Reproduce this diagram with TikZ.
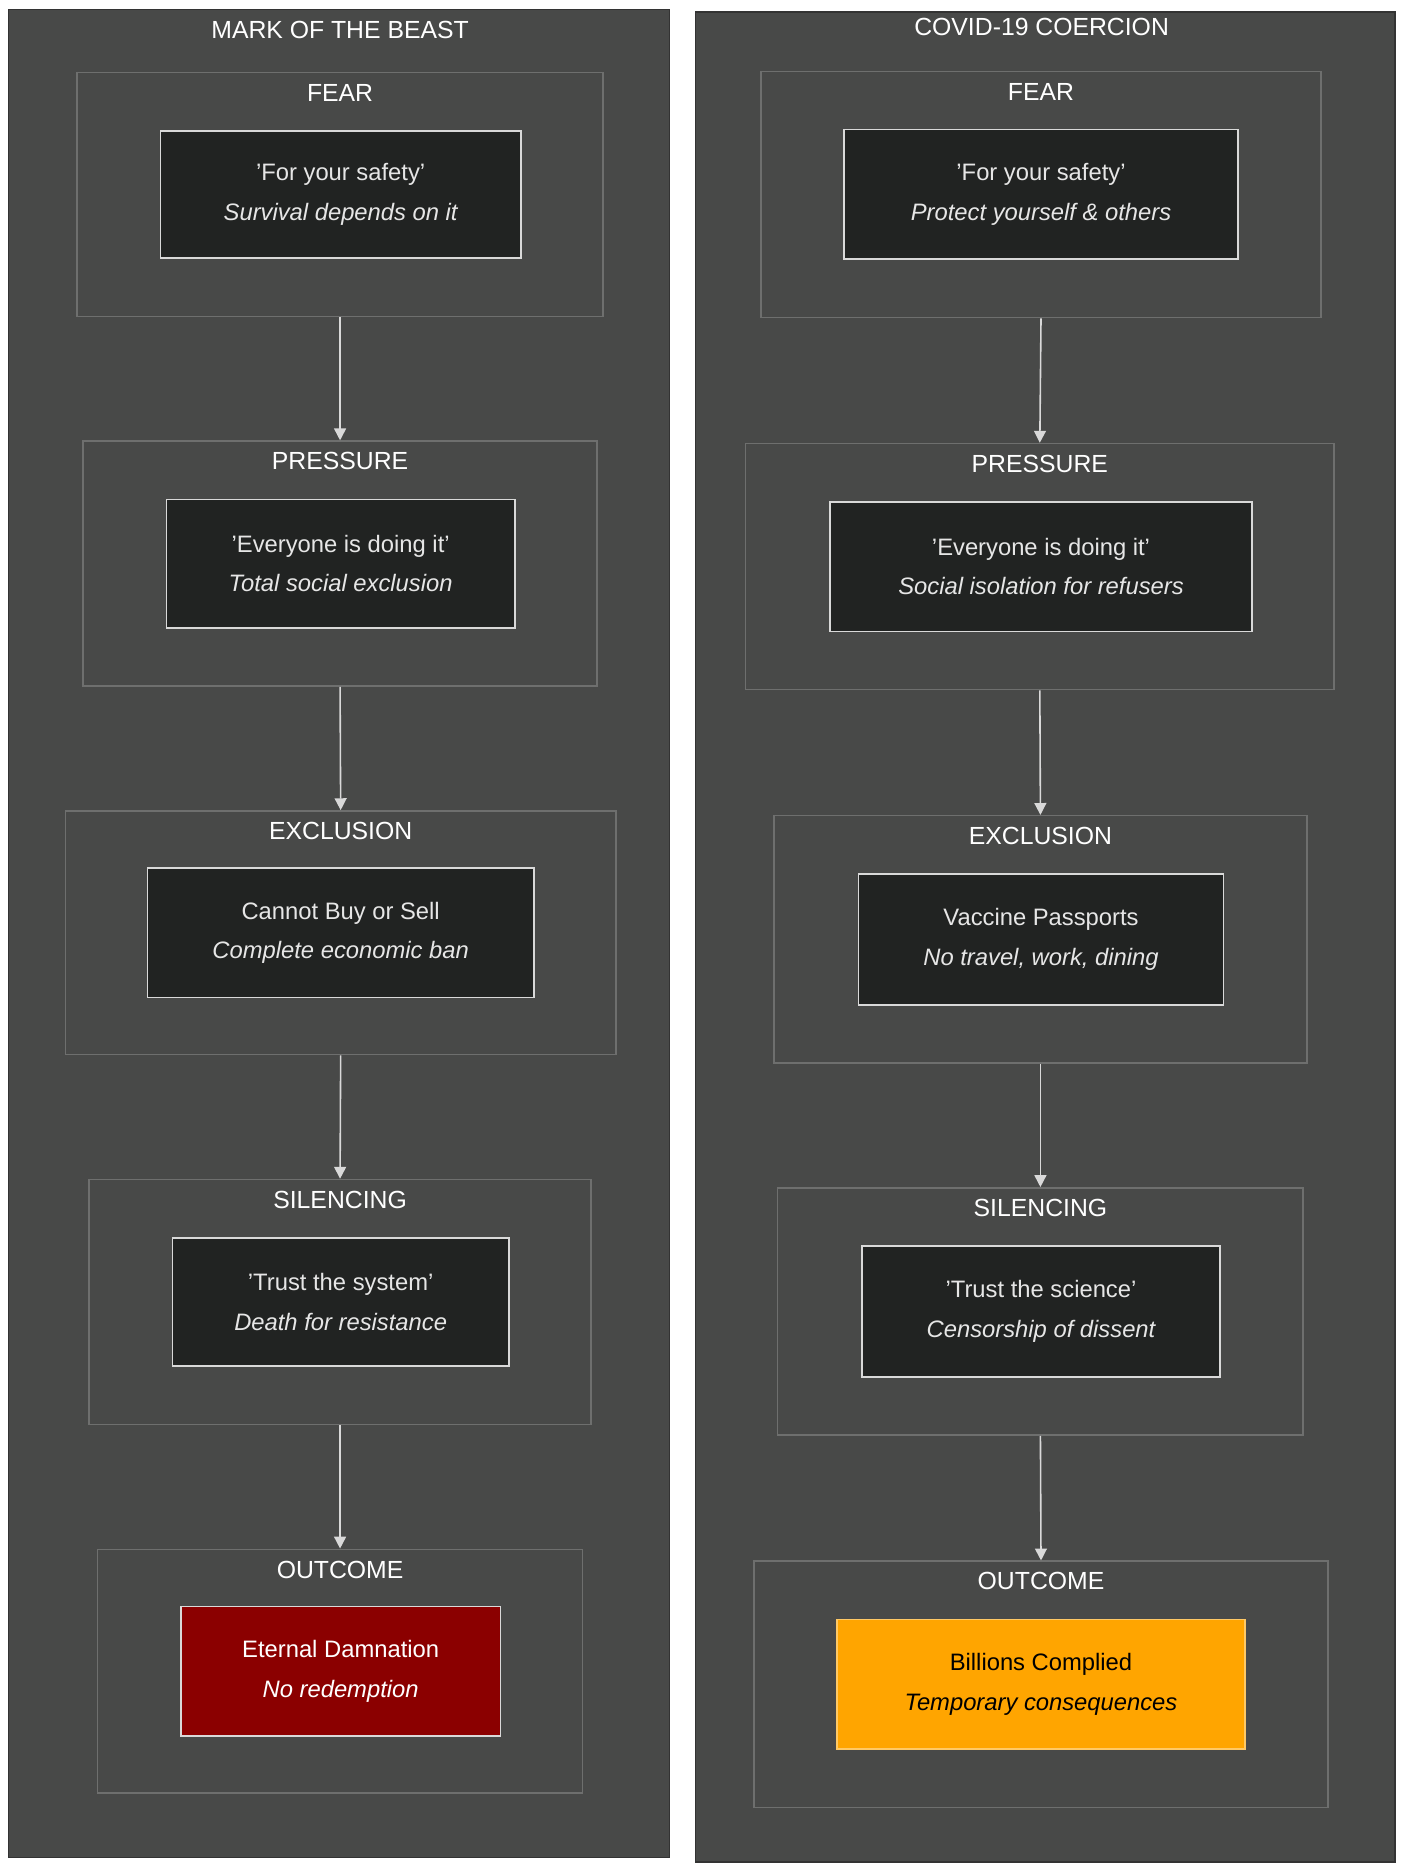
\documentclass[tikz,border=0pt]{standalone}
\usepackage{fontspec}
\setmainfont{Liberation Sans}
\usetikzlibrary{fit,arrows.meta}
\definecolor{panel}{HTML}{484948}
\definecolor{nodebg}{HTML}{212322}
\definecolor{grpline}{HTML}{6E6F6E}
\definecolor{txt}{HTML}{E6E6E6}
\definecolor{dred}{HTML}{8B0000}
\definecolor{orng}{HTML}{FFA500}
\begin{document}
\begin{tikzpicture}[x=0.6pt,y=-0.6pt,
  pan/.style={draw=black!80,fill=panel,inner sep=0,line width=0.8pt},
  grp/.style={draw=grpline,inner sep=0,line width=0.8pt},
  box/.style={draw=white!85!black,fill=nodebg,inner sep=0,line width=0.8pt},
  lbl/.style={text=white,font=\fontsize{12.5}{14}\selectfont},
  btxt/.style={text=txt,font=\fontsize{12}{20}\selectfont,align=center},
  arr/.style={draw=white!85!black,line width=0.8pt,-{Triangle[length=6pt,width=6pt]}}]
\useasboundingbox (0,0) rectangle (1180,1571);
\fill[white] (0,0) rectangle (1180,1571);
\node[pan,fit={(7,8)(563,1562)}] (P1) {};
\node[pan,fit={(585,10)(1173,1566)}] (P2) {};
\node[lbl] (T1) at (286,25) {MARK OF THE BEAST};
\node[lbl] (T2) at (876,23) {COVID-19 COERCION};
\newcommand\grpbox[9]{%
  \node[grp,fit={(#2,#3)(#4,#5)}] (#1) {};
  \node[lbl] (#1l) at ({(#2+#4)/2},#3+17) {#6};
  \node[box,fit={(#7)(#8)}] (#1b) {};
  \node[btxt] (#1t) at (#1b.center) {#9};}
\grpbox{a1}{65}{61}{507}{266}{FEAR}{135,110}{438,217}{'For your safety'\\\itshape Survival depends on it}
\grpbox{a2}{70}{371}{502}{577}{PRESSURE}{140,420}{433,528}{'Everyone is doing it'\\\itshape Total social exclusion}
\grpbox{a3}{55}{682}{518}{887}{EXCLUSION}{124,730}{449,839}{Cannot Buy or Sell\\\itshape Complete economic ban}
\grpbox{a4}{75}{992}{497}{1198}{SILENCING}{145,1041}{428,1149}{'Trust the system'\\\itshape Death for resistance}
\grpbox{a5}{82}{1303}{490}{1508}{OUTCOME}{152,1351}{421,1460}{Eternal Damnation\\\itshape No redemption}
\grpbox{b1}{640}{60}{1111}{267}{FEAR}{710,109}{1041,218}{'For your safety'\\\itshape Protect yourself \& others}
\grpbox{b2}{627}{373}{1122}{580}{PRESSURE}{698,422}{1053,531}{'Everyone is doing it'\\\itshape Social isolation for refusers}
\grpbox{b3}{651}{686}{1099}{894}{EXCLUSION}{722,735}{1029,845}{Vaccine Passports\\\itshape No travel, work, dining}
\grpbox{b4}{654}{999}{1096}{1207}{SILENCING}{725,1048}{1026,1158}{'Trust the science'\\\itshape Censorship of dissent}
\grpbox{b5}{634}{1313}{1117}{1520}{OUTCOME}{704,1362}{1047,1471}{Billions Complied\\\itshape Temporary consequences}
\node[box,fill=dred,fit={(152,1351)(421,1460)}] (a5r) {};
\node[btxt,text=white] at (a5r.center) {Eternal Damnation\\\itshape No redemption};
\node[box,fill=orng,draw=orng!60!white,fit={(704,1362)(1047,1471)}] (b5o) {};
\node[btxt,text=black] at (b5o.center) {Billions Complied\\\itshape Temporary consequences};
\foreach \c in {a,b}{
  \draw[arr] (\c1.south) -- (\c2.north);
  \draw[arr] (\c2.south) -- (\c3.north);
  \draw[arr] (\c3.south) -- (\c4.north);
  \draw[arr] (\c4.south) -- (\c5.north);}
\end{tikzpicture}
\end{document}
